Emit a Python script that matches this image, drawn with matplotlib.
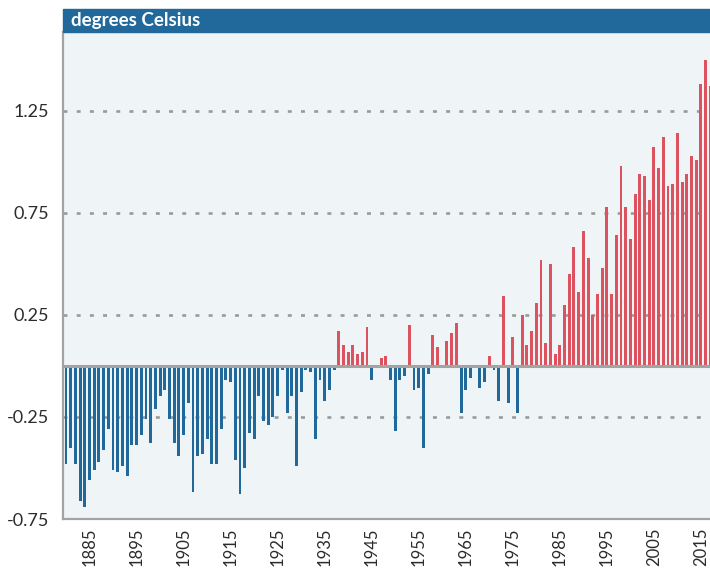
import matplotlib.pyplot as plt
import numpy as np
from matplotlib.patches import Rectangle

plt.rcParams['font.family'] = ['Lato', 'DejaVu Sans']

# annual temperature anomaly, degrees Celsius, 1880-2017
years = np.arange(1880, 2018)
anomaly = [
    -0.48, -0.40, -0.48, -0.66, -0.69, -0.56, -0.51, -0.47, -0.41, -0.31,  # 1880s
    -0.51, -0.52, -0.49, -0.54, -0.39, -0.39, -0.34, -0.26, -0.38, -0.21,  # 1890s
    -0.15, -0.12, -0.26, -0.38, -0.44, -0.34, -0.18, -0.62, -0.44, -0.43,  # 1900s
    -0.36, -0.48, -0.48, -0.31, -0.07, -0.08, -0.46, -0.63, -0.50, -0.33,  # 1910s
    -0.36, -0.15, -0.27, -0.29, -0.25, -0.15, -0.02, -0.23, -0.15, -0.49,  # 1920s
    -0.13, -0.02, -0.03, -0.36, -0.07, -0.17, -0.12, -0.02, 0.17, 0.10,    # 1930s
    0.07, 0.10, 0.06, 0.07, 0.19, -0.07, -0.01, 0.04, 0.05, -0.07,         # 1940s
    -0.32, -0.07, -0.05, 0.20, -0.12, -0.11, -0.40, -0.04, 0.15, 0.09,     # 1950s
    0.00, 0.12, 0.16, 0.21, -0.23, -0.12, -0.06, 0.00, -0.11, -0.08,       # 1960s
    0.05, -0.02, -0.17, 0.34, -0.18, 0.14, -0.23, 0.25, 0.10, 0.17,        # 1970s
    0.31, 0.52, 0.11, 0.50, 0.06, 0.10, 0.30, 0.45, 0.58, 0.36,            # 1980s
    0.66, 0.53, 0.25, 0.35, 0.48, 0.78, 0.35, 0.64, 0.98, 0.78,            # 1990s
    0.62, 0.84, 0.94, 0.93, 0.81, 1.07, 0.97, 1.12, 0.88, 0.89,            # 2000s
    1.14, 0.90, 0.94, 1.03, 1.01, 1.38, 1.50, 1.37,                        # 2010s
]
ytick_values = [-0.75, -0.25, 0.25, 0.75, 1.25]
ytick_labels = ['-0.75', '-0.25', '0.25', '0.75', '1.25']
xtick_years = list(range(1885, 2016, 10))
header = 'degrees Celsius'

blue = '#21699a'
red = '#dc525e'
grey = '#a3a3a3'

W, H = 710, 569
fig = plt.figure(figsize=(W / 100, H / 100), dpi=100)
ax = fig.add_axes([63 / W, 1 - 519 / H, (W - 63) / W, (519 - 32) / H])
ax.set_facecolor('#eff5f6')

anomaly = np.array(anomaly)
colors = np.where(anomaly >= 0, red, blue)
ax.bar(years, anomaly, width=0.62, color=colors, zorder=2)

for v in ytick_values[1:]:
    ax.axhline(v, color='#9a9a9a', lw=1.9, dashes=(1.5, 3.5), zorder=1)
ax.axhline(0, color=grey, lw=2.2, zorder=3)

ax.set_xlim(1879.36, 2016.93)
ax.set_ylim(-0.75, 1.635)
ax.set_yticks(ytick_values)
ax.set_yticklabels(ytick_labels)
ax.set_xticks(xtick_years)
ax.set_xticklabels([str(y) for y in xtick_years], rotation=90)
ax.tick_params(axis='both', length=0, colors='#2b2b2b')
ax.tick_params(axis='y', pad=10, labelsize=13)
ax.tick_params(axis='x', pad=6, labelsize=12)

for side in ['top', 'right']:
    ax.spines[side].set_visible(False)
for side in ['left', 'bottom']:
    ax.spines[side].set_color(grey)
    ax.spines[side].set_linewidth(1.6)
ax.spines['left'].set_zorder(4)

# title band above the plot
fig.patches.append(Rectangle((63 / W, 1 - 32 / H), (W - 63) / W, 23 / H,
                             transform=fig.transFigure, color=blue, zorder=5))
fig.text(71 / W, 1 - 20.5 / H, header, color='white', fontsize=13.5,
         fontweight='bold', va='center', ha='left', zorder=6)

fig.savefig('out.png', dpi=100, facecolor='white')
